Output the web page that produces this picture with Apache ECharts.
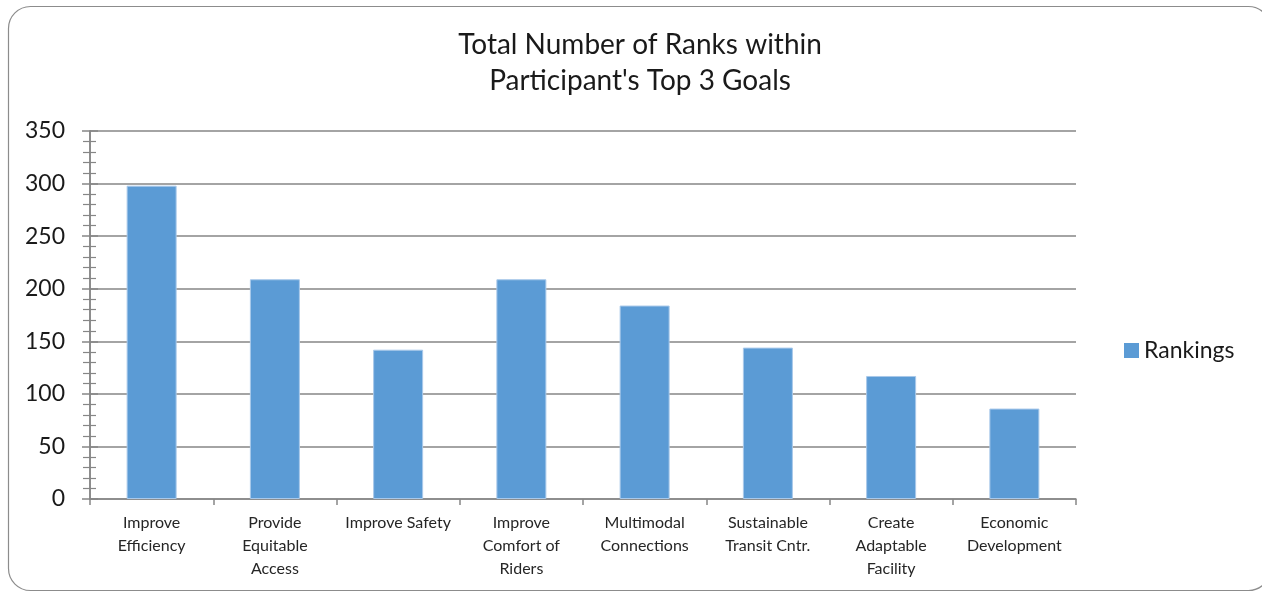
<!DOCTYPE html>
<html><head><meta charset="utf-8">
<script src="https://cdn.jsdelivr.net/npm/echarts@6/dist/echarts.min.js"></script>
<style>html,body{margin:0;padding:0;background:#fff}#c{width:1262px;height:592px}</style>
</head><body><div id="c"></div>
<script>
const categories = ["Improve\nEfficiency","Provide\nEquitable\nAccess","Improve Safety","Improve\nComfort of\nRiders","Multimodal\nConnections","Sustainable\nTransit Cntr.","Create\nAdaptable\nFacility","Economic\nDevelopment"];
const rankings = [298, 209, 142, 209, 184, 144, 117, 86];
const seriesName = "Rankings";
const titleText = "Total Number of Ranks within\nParticipant's Top 3 Goals";

const FONT = "Lato";
const chart = echarts.init(document.getElementById('c'), null, {renderer:'canvas'});
const yBase = {
  type:'value', min:0, max:350, interval:50,
  axisLine:{show:true, lineStyle:{color:'#868686', width:1.5}},
  splitLine:{show:false}
};
chart.setOption({
  animation:false,
  textStyle:{fontFamily:FONT},
  graphic:[{type:'rect', shape:{x:8.5, y:6.5, width:1262, height:584, r:22},
    style:{fill:'none', stroke:'#8c8c8c', lineWidth:1.2}, z:-1}],
  title:{text:titleText, left:635, top:22, textAlign:'center',
    textStyle:{fontFamily:FONT, fontSize:28, fontWeight:'normal', color:'#1a1a1a', lineHeight:36}},
  legend:{data:[seriesName], left:1119, top:334, icon:'rect', itemWidth:15, itemHeight:15,
    itemStyle:{borderWidth:0},
    textStyle:{fontFamily:FONT, fontSize:23, color:'#1a1a1a'}},
  grid:{left:90, right:186, top:131, bottom:93, containLabel:false},
  xAxis:{type:'category', data:categories,
    axisLine:{lineStyle:{color:'#868686', width:1.5}},
    axisTick:{show:true, length:6, lineStyle:{color:'#868686', width:1.5}},
    axisLabel:{fontFamily:FONT, fontSize:16, color:'#262626', lineHeight:23, margin:12, interval:0}},
  yAxis:[
    Object.assign({}, yBase, {
      axisTick:{show:true, length:8, lineStyle:{color:'#868686', width:1.5}},
      minorTick:{show:true, splitNumber:5, length:7, lineStyle:{color:'#868686', width:1.2}},
      splitLine:{show:true, lineStyle:{color:'#868686', width:1.5}},
      axisLabel:{fontFamily:FONT, fontSize:23, color:'#1a1a1a', margin:25}
    }),
    Object.assign({}, yBase, {
      position:'left', offset:0,
      axisTick:{show:true, inside:true, length:8, lineStyle:{color:'#868686', width:1.5}},
      minorTick:{show:true, splitNumber:5, length:6, lineStyle:{color:'#868686', width:1.2}},
      axisLabel:{show:false}
    })
  ],
  series:[{name:seriesName, type:'bar', data:rankings, barWidth:50,
    itemStyle:{color:'#5b9bd5', borderColor:'#a9c9ea', borderWidth:1}}]
});
</script></body></html>
